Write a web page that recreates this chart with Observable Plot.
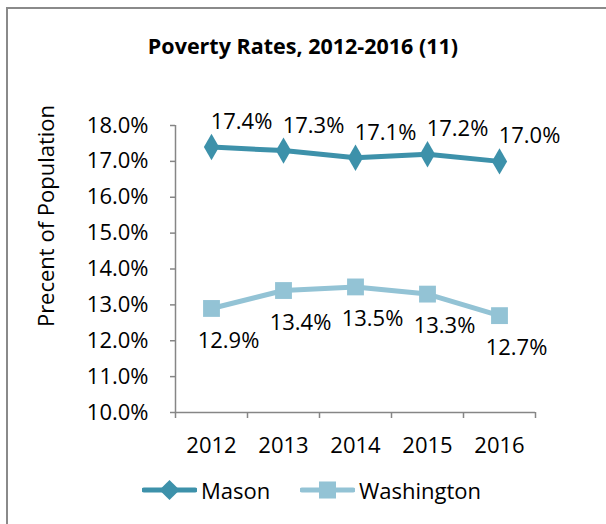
<!DOCTYPE html>
<html>
<head>
<meta charset="utf-8">
<script src="https://cdn.jsdelivr.net/npm/d3@7"></script>
<script src="https://cdn.jsdelivr.net/npm/@observablehq/plot@0.6"></script>
<style>
  html, body { margin: 0; padding: 0; background: #fff; overflow: hidden; }
  #page { position: relative; width: 606px; height: 524px; overflow: hidden; font-family: "Open Sans", sans-serif; }
  #frame { position: absolute; left: 6px; top: 7px; width: 700px; height: 600px; border: 2px solid #8a8a8a; box-sizing: border-box; }
  #title { position: absolute; left: 0; width: 606px; top: 31px; text-align: center; font-weight: bold; font-size: 21.5px; color: #000; }
  #ylabel { position: absolute; left: 45px; top: 216px; transform: translate(-50%, -50%) rotate(-90deg); white-space: nowrap; font-size: 22px; color: #000; }
  #chart { position: absolute; left: 0; top: 95px; }
  #legend { position: absolute; top: 475px; left: 0; width: 606px; height: 28px; }
  .item { position: absolute; top: 0; display: flex; align-items: center; font-size: 22px; color: #000; }
  .item svg { margin-right: 4px; }
</style>
</head>
<body>
<div id="page">
  <div id="frame"></div>
  <div id="title">Poverty Rates, 2012-2016 (11)</div>
  <div id="ylabel">Precent of Population</div>
  <div id="chart"></div>
  <div id="legend"></div>
</div>
<script>
const years = [2012, 2013, 2014, 2015, 2016];
const mason = [17.4, 17.3, 17.1, 17.2, 17.0];
const washington = [12.9, 13.4, 13.5, 13.3, 12.7];
const seriesNames = ["Mason", "Washington"];
const yTicks = [10, 11, 12, 13, 14, 15, 16, 17, 18];

const colors = {Mason: "#3d91aa", Washington: "#93c3d5"};
const axisGray = "#868686";

const masonRows = years.map((year, i) => ({year, value: mason[i], series: seriesNames[0]}));
const washRows = years.map((year, i) => ({year, value: washington[i], series: seriesNames[1]}));
const xMin = d3.min(years) - 0.5, xMax = d3.max(years) + 0.5;
const bounds = d3.range(years.length + 1).map(i => xMin + i);
const fmt = d => d.toFixed(1) + "%";

const chart = Plot.plot({
  width: 606,
  height: 370,
  marginLeft: 175,
  marginRight: 71,
  marginTop: 30,
  marginBottom: 53,
  x: {domain: [xMin, xMax]},
  y: {domain: [d3.min(yTicks), d3.max(yTicks)]},
  style: {fontFamily: "Open Sans", fontSize: "22px", color: "#000", background: "transparent", overflow: "visible"},
  marks: [
    Plot.ruleX([xMin], {y1: d3.min(yTicks), y2: d3.max(yTicks), stroke: axisGray, strokeWidth: 1.5}),
    Plot.ruleY([d3.min(yTicks)], {x1: xMin, x2: xMax, stroke: axisGray, strokeWidth: 1.5}),
    Plot.axisY({ticks: yTicks, tickSize: 5, tickPadding: 22, tickFormat: fmt, stroke: axisGray, fill: "#000", label: null, strokeWidth: 1.5}),
    Plot.axisX({ticks: bounds, tickSize: 6, tickFormat: () => "", stroke: axisGray, label: null, strokeWidth: 1.5}),
    Plot.axisX({ticks: years, tickSize: 0, tickPadding: 25, tickFormat: d => String(d), fill: "#000", label: null}),
    Plot.line(masonRows, {x: "year", y: "value", stroke: colors.Mason, strokeWidth: 5}),
    Plot.line(washRows, {x: "year", y: "value", stroke: colors.Washington, strokeWidth: 5}),
    Plot.dot(masonRows, {x: "year", y: "value", symbol: "diamond", r: 8, fill: colors.Mason, stroke: null}),
    Plot.dot(washRows, {x: "year", y: "value", symbol: "square", r: 9.5, fill: colors.Washington, stroke: null}),
    Plot.text(masonRows, {x: "year", y: "value", text: d => fmt(d.value), dx: 30, dy: -25, fill: "#000"}),
    Plot.text(washRows, {x: "year", y: "value", text: d => fmt(d.value), dx: 17, dy: 32, fill: "#000"})
  ]
});
document.getElementById("chart").appendChild(chart);

// legend
const legend = d3.select("#legend");
const legendItems = [
  {name: seriesNames[0], left: 142, symbol: d3.symbolDiamond2, size: 260},
  {name: seriesNames[1], left: 300, symbol: d3.symbolSquare, size: 290}
];
legendItems.forEach(it => {
  const div = legend.append("div").attr("class", "item").style("left", it.left + "px");
  const svg = div.append("svg").attr("width", 55).attr("height", 28);
  svg.append("line").attr("x1", 2).attr("x2", 53).attr("y1", 14).attr("y2", 14)
    .attr("stroke", colors[it.name]).attr("stroke-width", 5).attr("stroke-linecap", "round");
  svg.append("path").attr("d", d3.symbol(it.symbol, it.size)()).attr("transform", "translate(27.5,14)")
    .attr("fill", colors[it.name]);
  div.append("span").text(it.name);
});
</script>
</body>
</html>
